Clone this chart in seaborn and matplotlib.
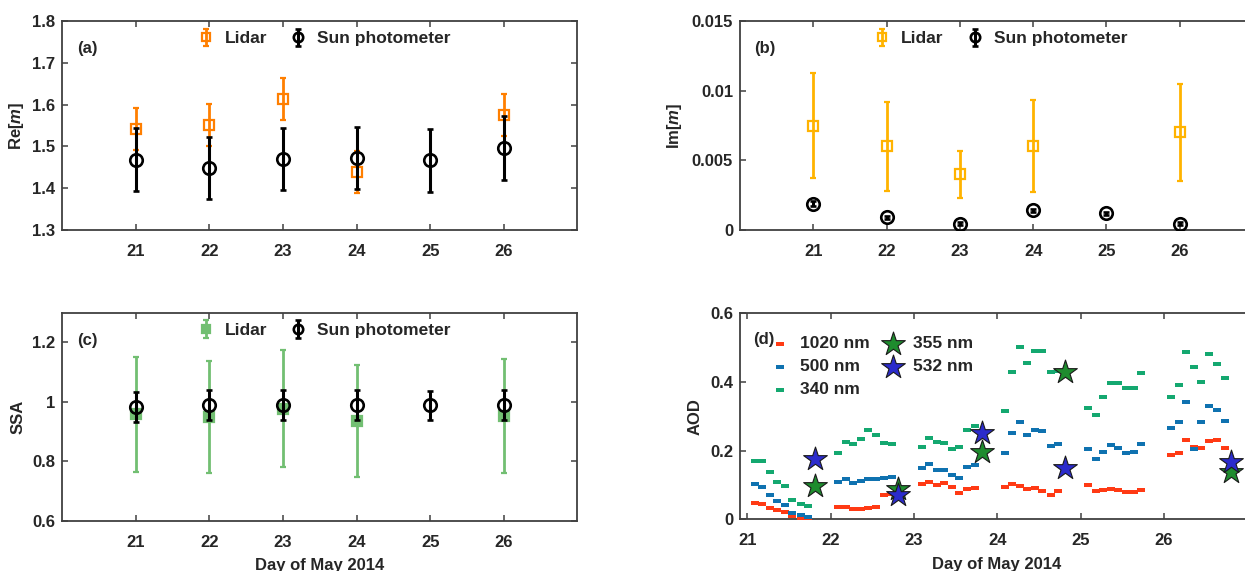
import numpy as np
import pandas as pd
import matplotlib
matplotlib.use("Agg")
import matplotlib.pyplot as plt
from matplotlib.path import Path
import seaborn as sns

# ---------------- data ----------------
days = [21, 22, 23, 24, 25, 26]
lidar_days = [21, 22, 23, 24, 26]

re_lidar = [1.542, 1.552, 1.613, 1.438, 1.576]
re_lidar_err = [0.050, 0.050, 0.050, 0.050, 0.050]
re_sun = [1.468, 1.448, 1.470, 1.472, 1.467, 1.496]
re_sun_err = [0.075, 0.075, 0.075, 0.075, 0.075, 0.076]

im_lidar = [0.0075, 0.0060, 0.0040, 0.0060, 0.0070]
im_lidar_err = [0.0038, 0.0032, 0.0017, 0.0033, 0.0035]
im_sun = [0.0019, 0.0009, 0.00045, 0.0014, 0.0012, 0.00045]
im_sun_err = [0.00015, 0.00012, 0.00012, 0.00012, 0.00012, 0.00012]

ssa_lidar = [0.958, 0.949, 0.978, 0.935, 0.954]
ssa_lidar_err = [0.192, 0.189, 0.196, 0.188, 0.192]
ssa_sun = [0.983, 0.991, 0.989, 0.989, 0.989, 0.991]
ssa_sun_err = [0.050, 0.050, 0.050, 0.050, 0.048, 0.050]

aod_time = [21.09, 21.18, 21.27, 21.36, 21.45, 21.54, 21.64, 21.73,
            22.09, 22.18, 22.27, 22.36, 22.45, 22.54, 22.64, 22.73,
            23.09, 23.18, 23.27, 23.36, 23.45, 23.54, 23.64, 23.73,
            24.09, 24.18, 24.27, 24.36, 24.45, 24.54, 24.64, 24.73,
            25.09, 25.18, 25.27, 25.36, 25.45, 25.54, 25.64, 25.73,
            26.09, 26.18, 26.27, 26.36, 26.45, 26.54, 26.64, 26.73]
aod_1020 = [0.048, 0.045, 0.032, 0.027, 0.020, 0.009, 0.003, 0.002,
            0.036, 0.035, 0.029, 0.029, 0.032, 0.036, 0.070, 0.075,
            0.102, 0.108, 0.099, 0.105, 0.093, 0.076, 0.088, 0.092,
            0.095, 0.103, 0.097, 0.088, 0.092, 0.081, 0.071, 0.081,
            0.100, 0.081, 0.084, 0.088, 0.084, 0.079, 0.079, 0.086,
            0.188, 0.194, 0.230, 0.211, 0.209, 0.227, 0.230, 0.209]
aod_500 = [0.102, 0.095, 0.070, 0.054, 0.043, 0.018, 0.012, 0.008,
           0.108, 0.117, 0.106, 0.111, 0.117, 0.117, 0.121, 0.123,
           0.149, 0.160, 0.144, 0.144, 0.129, 0.121, 0.152, 0.157,
           0.194, 0.251, 0.282, 0.246, 0.261, 0.256, 0.213, 0.220,
           0.204, 0.175, 0.196, 0.215, 0.209, 0.194, 0.196, 0.220,
           0.265, 0.282, 0.342, 0.206, 0.284, 0.331, 0.317, 0.287]
aod_340 = [0.169, 0.170, 0.138, 0.110, 0.098, 0.056, 0.046, 0.038,
           0.194, 0.225, 0.218, 0.235, 0.260, 0.246, 0.223, 0.218,
           0.212, 0.238, 0.226, 0.222, 0.204, 0.212, 0.261, 0.272,
           0.314, 0.428, 0.503, 0.456, 0.491, 0.491, 0.428, 0.431,
           0.324, 0.305, 0.355, 0.397, 0.397, 0.383, 0.383, 0.425,
           0.357, 0.392, 0.487, 0.444, 0.399, 0.482, 0.451, 0.413]
star_time = [21.81, 22.81, 23.81, 24.81, 26.81]
aod_355 = [0.097, 0.088, 0.196, 0.428, 0.138]
aod_532 = [0.176, 0.070, 0.251, 0.148, 0.168]

xtick_days = [21, 22, 23, 24, 25, 26]

# ---------------- style ----------------
sns.set_theme(style="ticks")
plt.rcParams['font.family'] = ['Liberation Sans', 'DejaVu Sans']
plt.rcParams['font.weight'] = 'bold'
plt.rcParams['axes.labelweight'] = 'bold'
plt.rcParams['mathtext.fontset'] = 'custom'
plt.rcParams['mathtext.it'] = 'Liberation Sans:italic:bold'
plt.rcParams['mathtext.rm'] = 'Liberation Sans:bold'

TXT = '#262626'
SPINE = '#404040'
FS_TICK = 12
FS_LAB = 12
FS_LEG = 12.5
FS_TAG = 12

W, H = 1245, 571
fig = plt.figure(figsize=(W / 100, H / 100), dpi=100)

def px_axes(l, r, t, b):
    return fig.add_axes([l / W, (H - b) / H, (r - l) / W, (b - t) / H])

ax_a = px_axes(62.3, 577.3, 21, 230)
ax_b = px_axes(740, 1253, 21, 230)
ax_c = px_axes(62.3, 577.3, 312.7, 521)
ax_d = px_axes(740, 1253, 313.3, 519.3)

def style(ax):
    for s in ax.spines.values():
        s.set_color(SPINE)
        s.set_linewidth(1.3)
    ax.tick_params(direction='in', top=True, right=True, length=4, width=1.1,
                   color=SPINE, labelsize=FS_TICK, labelcolor=TXT)
    ax.tick_params(axis='x', pad=10)
    ax.tick_params(axis='y', pad=5)
    for lab in ax.get_xticklabels() + ax.get_yticklabels():
        lab.set_fontweight('bold')
    ax.set_facecolor('white')

def pair_panel(ax, lid, lid_err, sun, sun_err, lcolor, lmfc, ylabel, tag, ylim, yticks, yticklabels):
    ax.errorbar(lidar_days, lid, yerr=lid_err, fmt='s', color=lcolor, mfc=lmfc,
                mec=lcolor, ms=7, mew=1.6, elinewidth=2.0, capsize=2.5, capthick=2.0,
                label='Lidar', zorder=3)
    ax.errorbar(days, sun, yerr=sun_err, fmt='o', color='black', mfc='none',
                mec='black', ms=9, mew=1.9, elinewidth=2.2, capsize=2.5, capthick=2.2,
                label='Sun photometer', zorder=4)
    ax.set_xlim(20, 27)
    ax.set_ylim(*ylim)
    ax.set_xticks(xtick_days)
    ax.set_yticks(yticks)
    ax.set_yticklabels(yticklabels)
    ax.set_ylabel(ylabel, fontsize=FS_LAB, color=TXT, fontweight='bold')
    ax.text(0.048, 0.868, tag, transform=ax.transAxes, ha='center', va='center',
            fontsize=FS_TAG, fontweight='bold', color=TXT)
    leg = ax.legend(loc='center', bbox_to_anchor=(0.508, 0.915), ncol=2, frameon=False,
                    fontsize=FS_LEG, handlelength=1.0, handletextpad=0.6,
                    columnspacing=1.3, markerscale=0.75)
    for t in leg.get_texts():
        t.set_fontweight('bold')
        t.set_color(TXT)
    style(ax)

pair_panel(ax_a, re_lidar, re_lidar_err, re_sun, re_sun_err, '#FF7F00', 'none',
           r'Re[$\mathit{m}$]', '(a)', (1.3, 1.8),
           [1.3, 1.4, 1.5, 1.6, 1.7, 1.8], ['1.3', '1.4', '1.5', '1.6', '1.7', '1.8'])
pair_panel(ax_b, im_lidar, im_lidar_err, im_sun, im_sun_err, '#FFB300', 'none',
           r'Im[$\mathit{m}$]', '(b)', (0, 0.015),
           [0, 0.005, 0.01, 0.015], ['0', '0.005', '0.01', '0.015'])
pair_panel(ax_c, ssa_lidar, ssa_lidar_err, ssa_sun, ssa_sun_err, '#72BF72', '#72BF72',
           'SSA', '(c)', (0.6, 1.3),
           [0.6, 0.8, 1.0, 1.2], ['0.6', '0.8', '1', '1.2'])

ax_a.yaxis.set_label_coords(-0.070, 0.5)
ax_b.yaxis.set_label_coords(-0.110, 0.5)
ax_c.yaxis.set_label_coords(-0.072, 0.5)
ax_c.set_xlabel('Day of May 2014', fontsize=FS_LAB, color=TXT, fontweight='bold')
ax_c.xaxis.set_label_coords(0.5, -0.178)

# ---------------- panel (d) ----------------
rect = Path([(-1, -0.55), (1, -0.55), (1, 0.55), (-1, 0.55), (-1, -0.55)],
            [Path.MOVETO, Path.LINETO, Path.LINETO, Path.LINETO, Path.CLOSEPOLY])

df = pd.DataFrame({'time': aod_time, 'a1020': aod_1020, 'a500': aod_500, 'a340': aod_340})
sns.scatterplot(data=df, x='time', y='a1020', ax=ax_d, marker=rect, s=36,
                color='#FF3A14', linewidth=0, label='1020 nm', zorder=3)
sns.scatterplot(data=df, x='time', y='a500', ax=ax_d, marker=rect, s=36,
                color='#0F72B0', linewidth=0, label='500 nm', zorder=3)
sns.scatterplot(data=df, x='time', y='a340', ax=ax_d, marker=rect, s=36,
                color='#14A870', linewidth=0, label='340 nm', zorder=3)
ds = pd.DataFrame({'time': star_time, 'a355': aod_355, 'a532': aod_532})
sns.scatterplot(data=ds, x='time', y='a355', ax=ax_d, marker='*', s=320,
                color='#1E8C2E', edgecolor='#1a1a1a', linewidth=0.8, label='355 nm', zorder=4)
sns.scatterplot(data=ds, x='time', y='a532', ax=ax_d, marker='*', s=320,
                color='#2B2BCC', edgecolor='#1a1a1a', linewidth=0.8, label='532 nm', zorder=5)

ax_d.set_xlim(20.91, 27.07)
ax_d.set_ylim(0, 0.6)
ax_d.set_xticks(xtick_days)
ax_d.set_yticks([0, 0.2, 0.4, 0.6])
ax_d.set_yticklabels(['0', '0.2', '0.4', '0.6'])
ax_d.set_xlabel('Day of May 2014', fontsize=FS_LAB, color=TXT, fontweight='bold')
ax_d.xaxis.set_label_coords(0.5, -0.182)
ax_d.set_ylabel('AOD', fontsize=FS_LAB, color=TXT, fontweight='bold')
ax_d.yaxis.set_label_coords(-0.072, 0.5)
ax_d.text(0.025, 0.872, '(d)', transform=ax_d.transAxes, ha='left', va='center',
          fontsize=FS_TAG, fontweight='bold', color=TXT)
leg = ax_d.legend(loc='upper left', bbox_to_anchor=(0.043, 0.94), ncol=2, frameon=False,
                  fontsize=FS_LEG, handlelength=0.9, handletextpad=0.7,
                  columnspacing=0.9, labelspacing=0.45, borderaxespad=0.2)
for t in leg.get_texts():
    t.set_fontweight('bold')
    t.set_color(TXT)
style(ax_d)

fig.savefig('out.png', dpi=100, facecolor='white')
